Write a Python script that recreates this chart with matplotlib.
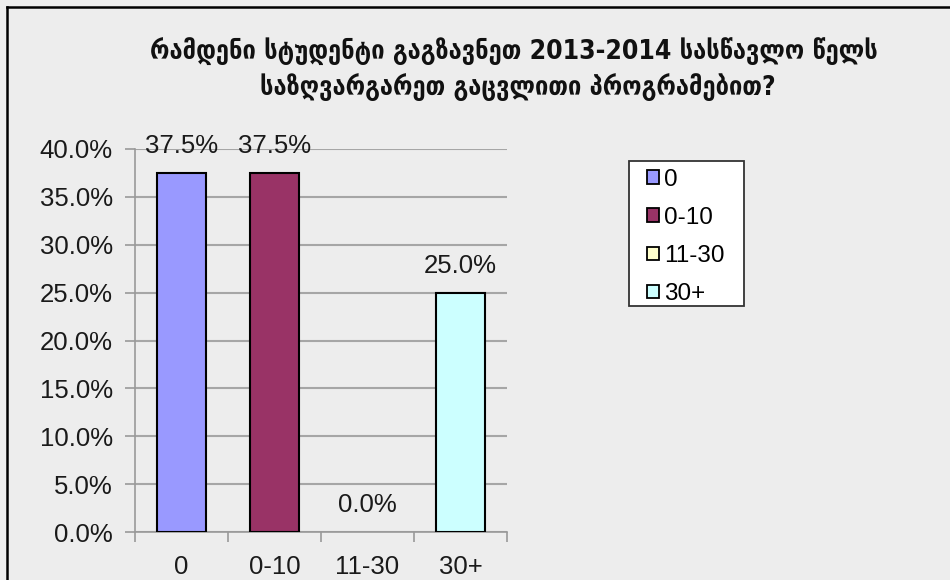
import matplotlib
matplotlib.use("Agg")
import matplotlib.pyplot as plt
from matplotlib.patches import Patch, Rectangle
from matplotlib.lines import Line2D
from matplotlib.ticker import FuncFormatter, MultipleLocator

categories = ["0", "0-10", "11-30", "30+"]
shares = [37.5, 37.5, 0.0, 25.0]
colors = ["#9999FF", "#993366", "#FFFFCC", "#CCFFFF"]
title_lines = ["რამდენი სტუდენტი გაგზავნეთ 2013-2014 სასწავლო წელს",
               "საზღვარგარეთ გაცვლითი პროგრამებით?"]

W, H = 950, 580
bg = "#EDEDED"
plt.rcParams['font.family'] = ['Liberation Sans', 'DejaVu Sans']

fig = plt.figure(figsize=(W / 100, H / 100), dpi=100, facecolor=bg)
ax = fig.add_axes([135 / W, 1 - 532 / H, 372 / W, 383 / H])
ax.set_facecolor(bg)

x = range(len(categories))
edge_w = [1.5 if v > 0 else 0 for v in shares]
ax.bar(x, shares, width=0.52, color=colors, edgecolor="black", linewidth=edge_w, zorder=3)

for xi, v in zip(x, shares):
    ax.annotate(f"{v:.1f}%", (xi, v), xytext=(0, 19.5), textcoords="offset points",
                ha="center", va="center", fontsize=18.5, color="#1a1a1a")

ax.set_xlim(-0.5, 3.5)
ax.set_ylim(0, 40)
ax.yaxis.set_major_locator(MultipleLocator(5))
ax.yaxis.set_major_formatter(FuncFormatter(lambda v, p: f"{v:.1f}%"))
ax.grid(axis="y", color="#A6A6A6", linewidth=1.5, zorder=0)
ax.set_axisbelow(True)

ax.set_xticks(list(x))
ax.set_xticklabels(categories)
ax.set_xticks([i - 0.5 for i in range(len(categories) + 1)], minor=True)
ax.tick_params(axis="x", which="major", length=0, pad=16.5, labelsize=18.5, labelcolor="#1a1a1a")
ax.tick_params(axis="x", which="minor", length=7, width=1.2, color="#999999")
ax.tick_params(axis="y", length=7, width=1.2, color="#999999", pad=9, labelsize=18.5,
               labelcolor="#1a1a1a")

for side in ["top", "right"]:
    ax.spines[side].set_visible(False)
for side in ["left", "bottom"]:
    ax.spines[side].set_color("#999999")
    ax.spines[side].set_linewidth(1.2)

# legend box
fig.patches.append(Rectangle((629 / W, 1 - 306 / H), 115 / W, 145 / H, transform=fig.transFigure,
                             facecolor="white", edgecolor="#333333", linewidth=1.3, zorder=1))
handles = [Patch(facecolor=c, edgecolor="black", linewidth=1.3) for c in colors]
fig.legend(handles, categories, loc="upper left", bbox_to_anchor=(647 / W, 1 - 169 / H),
           frameon=False, fontsize=17.5, handlelength=0.5, handleheight=0.5,
           handletextpad=0.2, labelspacing=0.66, borderpad=0, borderaxespad=0)

# title
fig.text(514 / W, 1 - 52 / H, title_lines[0], ha="center", va="center", fontsize=19,
         family=["DejaVu Sans"], stretch="condensed", weight="bold", color="#111111")
fig.text(518 / W, 1 - 87 / H, title_lines[1], ha="center", va="center", fontsize=19,
         family=["DejaVu Sans"], stretch="condensed", weight="bold", color="#111111")

# chart border
fig.lines.append(Line2D([7 / W, 7 / W], [0, 1 - 7 / H], transform=fig.transFigure,
                        color="black", linewidth=1.8))
fig.lines.append(Line2D([7 / W, 1], [1 - 7 / H, 1 - 7 / H], transform=fig.transFigure,
                        color="black", linewidth=1.8))

fig.savefig("out.png", dpi=100, facecolor=bg)
